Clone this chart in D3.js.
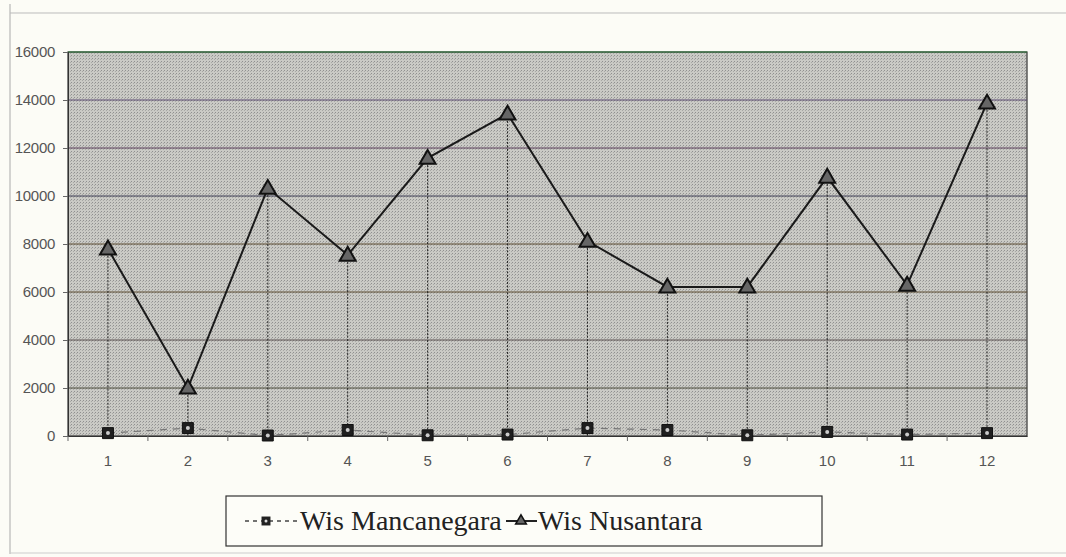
<!DOCTYPE html>
<html>
<head>
<meta charset="utf-8">
<script src="https://cdn.jsdelivr.net/npm/d3@7"></script>
<style>
  body { margin: 0; background: #fcfcf6; }
  svg { display: block; }
</style>
</head>
<body>
<svg id="chart" width="1066" height="557"></svg>
<script>
// data
let months = ["1","2","3","4","5","6","7","8","9","10","11","12"];
let mancanegara = [120, 330, 20, 250, 30, 60, 330, 250, 30, 170, 60, 120];
let nusantara = [7800, 2000, 10330, 7540, 11580, 13420, 8120, 6210, 6210, 10790, 6290, 13880];
let yTicks = [0, 2000, 4000, 6000, 8000, 10000, 12000, 14000, 16000];
let legendNames = ["Wis Mancanegara", "Wis Nusantara"];

let svg = d3.select("#chart");

// outer frame of the scanned page
svg.append("line").attr("x1", 10).attr("x2", 10).attr("y1", 4).attr("y2", 554)
   .attr("stroke", "#aaa").attr("stroke-width", 1);
svg.append("line").attr("x1", 10).attr("x2", 1066).attr("y1", 13).attr("y2", 13)
   .attr("stroke", "#bbb").attr("stroke-width", 1);
svg.append("line").attr("x1", 10).attr("x2", 1066).attr("y1", 553).attr("y2", 553)
   .attr("stroke", "#ccc").attr("stroke-width", 1);

let margin = {top: 52, left: 68, right: 39, bottom: 121};
let width = 1066 - margin.left - margin.right;
let height = 557 - margin.top - margin.bottom;

// halftone-ish fill
let defs = svg.append("defs");
let pat = defs.append("pattern").attr("id", "dots")
    .attr("width", 3).attr("height", 3).attr("patternUnits", "userSpaceOnUse");
pat.append("rect").attr("width", 3).attr("height", 3).attr("fill", "#cacac5");
pat.append("rect").attr("width", 1).attr("height", 1).attr("fill", "#909090");
pat.append("rect").attr("x", 2).attr("y", 1).attr("width", 1).attr("height", 1).attr("fill", "#a8a8a5");

let g = svg.append("g").attr("transform", "translate(" + margin.left + "," + margin.top + ")");

let x = d3.scaleBand().domain(months).range([0, width]);
let y = d3.scaleLinear().domain([0, 16000]).range([height, 0]);
let cx = function(d, i){ return x(months[i]) + x.bandwidth() / 2; };

g.append("rect").attr("width", width).attr("height", height)
  .attr("fill", "url(#dots)").attr("stroke", "#333").attr("stroke-width", 1.2);

// gridlines
let gridColors = ["#333", "#4a4a3a", "#5a5050", "#5a4a30", "#5a4a30", "#3f3f55", "#5a3f5a", "#5a4a70", "#2d7a3a"];
g.selectAll(".grid").data(yTicks.slice(1)).enter().append("line")
  .attr("x1", 0).attr("x2", width)
  .attr("y1", d => y(d)).attr("y2", d => y(d))
  .attr("stroke", (d, i) => gridColors[i + 1]).attr("stroke-width", 1);

// axes
let yAxis = d3.axisLeft(y).tickValues(yTicks).tickSize(5).tickFormat(d3.format("d"));
let yg = g.append("g").call(yAxis);
yg.select(".domain").attr("stroke", "#333");
yg.selectAll("line").attr("stroke", "#666");
yg.selectAll("text").attr("font-family", "Liberation Sans, Arial, sans-serif")
  .attr("font-size", 15).attr("fill", "#555").attr("dx", -5).attr("letter-spacing", -0.3);

let xAxis = d3.axisBottom(x).tickSize(0);
let xg = g.append("g").attr("transform", "translate(0," + height + ")").call(xAxis);
xg.select(".domain").attr("stroke", "#333");
xg.selectAll("text").attr("font-family", "Liberation Sans, Arial, sans-serif")
  .attr("font-size", 15).attr("fill", "#555").attr("dy", "1.8em");
// category boundary ticks
g.selectAll(".xt").data(months).enter().append("line")
  .attr("x1", d => x(d)).attr("x2", d => x(d))
  .attr("y1", height).attr("y2", height + 5).attr("stroke", "#666");

// drop lines from Nusantara points
g.selectAll(".drop").data(nusantara).enter().append("line")
  .attr("x1", cx).attr("x2", cx)
  .attr("y1", d => y(d)).attr("y2", height)
  .attr("stroke", "#222").attr("stroke-width", 1).attr("stroke-dasharray", "2,1.5");

// Mancanegara dashed line
let line = d3.line().x(cx).y(d => y(d));
g.append("path").datum(mancanegara).attr("d", line)
  .attr("fill", "none").attr("stroke", "#777").attr("stroke-width", 1.2)
  .attr("stroke-dasharray", "7,6");

// Nusantara solid line
g.append("path").datum(nusantara).attr("d", line)
  .attr("fill", "none").attr("stroke", "#1a1a1a").attr("stroke-width", 2);

let sq = d3.symbol().type(d3.symbolSquare).size(120);
let tri = d3.symbol().type(d3.symbolTriangle).size(110);

g.selectAll(".m").data(mancanegara).enter().append("path")
  .attr("d", sq).attr("transform", (d, i) => "translate(" + cx(d, i) + "," + y(d) + ")")
  .attr("fill", "#1f1f1f").attr("stroke", "#111");
g.selectAll(".mi").data(mancanegara).enter().append("circle")
  .attr("cx", cx).attr("cy", d => y(d)).attr("r", 2).attr("fill", "#ccc");

g.selectAll(".n").data(nusantara).enter().append("path")
  .attr("d", tri).attr("transform", (d, i) => "translate(" + cx(d, i) + "," + (y(d) + 1) + ")")
  .attr("fill", "#666").attr("stroke", "#111").attr("stroke-width", 2);

// legend
let lg = svg.append("g");
lg.append("rect").attr("x", 226).attr("y", 496).attr("width", 596).attr("height", 50)
  .attr("fill", "#fdfdf8").attr("stroke", "#333").attr("stroke-width", 1.2);

lg.append("line").attr("x1", 245).attr("x2", 298).attr("y1", 521).attr("y2", 521)
  .attr("stroke", "#444").attr("stroke-width", 1.5).attr("stroke-dasharray", "4,4");
lg.append("path").attr("d", d3.symbol().type(d3.symbolSquare).size(80))
  .attr("transform", "translate(266,521)").attr("fill", "#222");
lg.append("circle").attr("cx", 266).attr("cy", 521).attr("r", 1.5).attr("fill", "#ddd");
lg.append("text").attr("x", 300).attr("y", 530).text(legendNames[0])
  .attr("font-family", "Liberation Serif, Times New Roman, serif").attr("font-size", 28).attr("fill", "#222");

lg.append("line").attr("x1", 506).attr("x2", 537).attr("y1", 521).attr("y2", 521)
  .attr("stroke", "#222").attr("stroke-width", 2);
lg.append("path").attr("d", d3.symbol().type(d3.symbolTriangle).size(50))
  .attr("transform", "translate(521,521)").attr("fill", "#666").attr("stroke", "#111").attr("stroke-width", 1.5);
lg.append("text").attr("x", 538).attr("y", 530).text(legendNames[1])
  .attr("font-family", "Liberation Serif, Times New Roman, serif").attr("font-size", 28).attr("fill", "#222");
</script>
</body>
</html>
